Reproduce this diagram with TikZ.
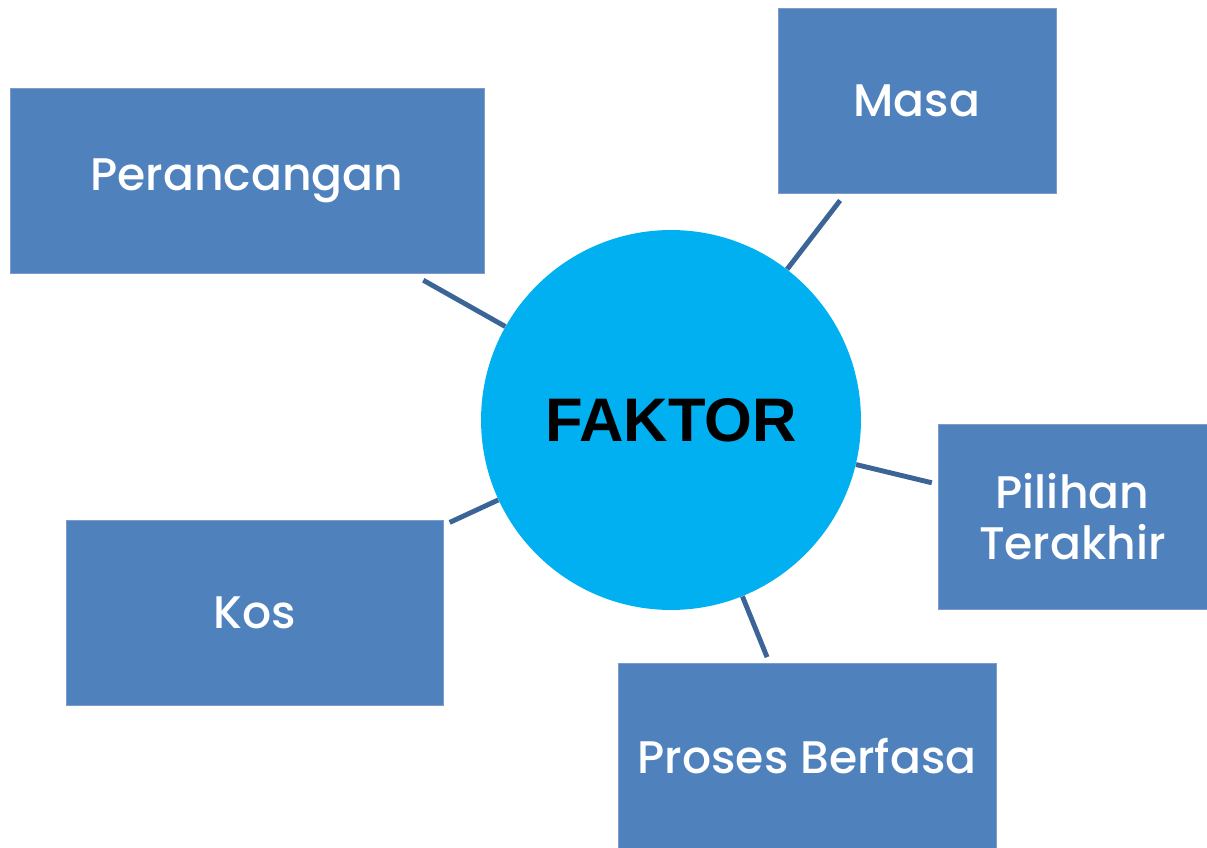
\documentclass[tikz,border=0pt]{standalone}
\usepackage{fontspec}
\setmainfont{Poppins}
\newfontfamily\boxfont{Poppins Medium}
\newfontfamily\arialfont{Liberation Sans}
\usepackage{xcolor}
\usepackage{tikz}
\usetikzlibrary{positioning}

\definecolor{kotak}{HTML}{4F81BD}
\definecolor{tepi}{HTML}{7A9CCB}
\definecolor{bulat}{HTML}{00B0F0}
\definecolor{garis}{HTML}{3B6497}

\begin{document}
\begin{tikzpicture}[x=0.02cm,y=-0.02cm,
        faktorbox/.style={rectangle,fill=kotak,draw=tepi,line width=0.4pt,minimum height=3.7cm,
                text=white,align=center,font=\boxfont\fontsize{26}{29}\selectfont},
        link/.style={draw=garis,line width=2.8pt}]
        
        \useasboundingbox (0,0) rectangle (1207,848);
        
        \node[circle,fill=bulat,minimum size=7.6cm,inner sep=0pt,font=\arialfont\bfseries\fontsize{35}{40}\selectfont] (faktor) at (671,420) {FAKTOR};
        
        \node[faktorbox,minimum width=9.48cm] (per) at (247,180.5) {Perancangan};
        \node[faktorbox,minimum width=5.56cm] (masa) at (917,100.5) {Masa};
        \node[faktorbox,minimum width=5.38cm] (pil) at (1072.5,516.5) {Pilihan\\Terakhir};
        \node[faktorbox,minimum width=7.56cm] (pro) at (807,756) {Proses Berfasa};
        \node[faktorbox,minimum width=7.54cm] (kos) at (254.5,612.5) {Kos};
        
        \draw[link,shorten >=0.28cm] (faktor) -- (per);
        \draw[link,shorten >=0.18cm] (faktor) -- (masa);
        \draw[link,shorten >=0.12cm] (faktor) -- (pil);
        \draw[link,shorten >=0.13cm] (faktor) -- (pro);
        \draw[link,shorten >=0.14cm] (faktor) -- (kos);
        
    \end{tikzpicture}
\end{document}
